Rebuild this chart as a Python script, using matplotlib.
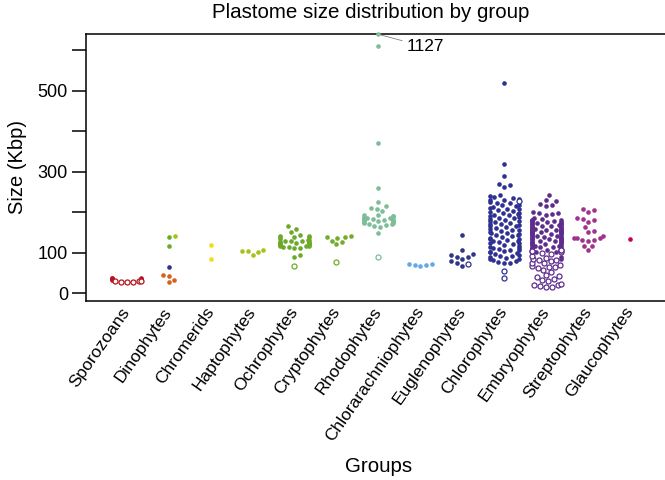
"""Plastome size distribution by group, beeswarm style."""

import matplotlib

matplotlib.use("Agg")
import matplotlib.pyplot as plt
import numpy as np

plt.rcParams["font.family"] = ["Liberation Sans", "DejaVu Sans"]

groups = [
    "Sporozoans", "Dinophytes", "Chromerids", "Haptophytes", "Ochrophytes",
    "Cryptophytes", "Rhodophytes", "Chlorarachniophytes", "Euglenophytes",
    "Chlorophytes", "Embryophytes", "Streptophytes", "Glaucophytes",
]

# colour of each plastid lineage
colours = {
    "sporo": "#B5151D", "peridinin": "#D5621F", "chromerid": "#EEE010",
    "hapto": "#A6C31B", "ochro": "#6DAA2C", "crypto": "#74AC2C",
    "rhodo": "#7DBE98", "chlorarach": "#67A9E6", "eugleno": "#2F3589",
    "chloro": "#2E3192", "embryo": "#5D2C8C", "strepto": "#A0318E",
    "glauco": "#C8005A",
}

# plastome sizes in Kbp; *_open = hollow points
sporozoans = [33, 34, 35, 35, 36, 37, 37, 38]
sporozoans_open = [28, 29, 29, 30, 30, 31]
dino_peridinin = [27, 33.5, 42.7, 45]
dino_green = [66]
dino_diatom = [116, 140]
dino_hapto = [142]
chromerids = [85, 119]
haptophytes = [95, 103, 104, 105, 107]
ochrophytes = [89, 94, 111, 113, 114, 115, 116, 117, 118, 119, 120, 121, 122,
               123, 123, 124, 125, 125, 126, 127, 128, 129, 130, 131, 132, 134,
               138, 139, 140, 141, 141, 145, 152, 158, 165]
ochrophytes_open = [67]
cryptophytes = [121, 127, 130, 136, 139, 139, 141]
cryptophytes_open = [77]
rhodophytes = [1127, 610, 370, 259, 226, 216, 210, 209, 204, 193, 192, 191,
               190, 189, 188, 187, 186, 185, 184, 183, 182, 181, 180, 179, 178,
               177, 176, 175, 174, 173, 172, 170, 168, 166, 164, 150]
rhodophytes_open = [90]
chlorarachniophytes = [67, 69, 71, 72, 72.5]
euglenophytes = [67, 74, 79, 84, 89, 90, 94, 96, 106, 143]
euglenophytes_open = [73]
chlorophytes = [519, 318, 289, 269, 268, 263,
                242, 240, 237, 235, 233, 231, 229, 226, 224, 222,
                219, 217, 215, 213, 211, 209, 207, 205, 203, 201,
                199, 198, 196, 194, 192, 190, 189, 187, 185, 183, 181,
                179, 178, 176, 174, 172, 170, 168, 167, 165, 163, 161,
                159, 157, 156, 154, 152, 150, 148, 146, 145, 143, 141,
                139, 137, 135, 134, 132, 130, 128, 126, 124, 123, 121,
                119, 117, 115, 113, 112, 110, 108, 106, 104, 102, 101,
                99, 97, 95, 93, 92, 90, 88, 86, 84, 82, 80, 78, 76, 74]
chlorophytes_open = [228, 56, 38.5]
embryophytes = [242.5, 230, 228, 219.5, 218, 215, 201, 199, 197, 196, 193,
                186, 184, 182, 181, 180, 179, 178, 177, 176, 175, 174, 173,
                172, 171, 170, 169, 168, 167, 166, 165, 164, 163, 162, 161,
                160, 159, 158, 157, 156, 156, 155, 155, 154, 154, 153, 153,
                152, 152, 151, 151, 150, 150, 149, 148, 147, 146, 145, 144,
                143, 142, 141, 140, 139, 138, 137, 136, 135, 134, 133, 132,
                131, 130, 129, 128, 127, 126, 125, 124, 123, 122, 121, 120,
                119, 118, 117, 116, 115, 114, 113, 112, 111, 110, 109, 108,
                107, 106, 105, 104, 103, 102, 89, 86]
embryophytes_open = [16, 17, 19, 20, 21, 22, 30, 33, 35, 41, 42, 45, 52, 58,
                     62, 65, 66, 68, 70, 74, 76, 79, 82, 83, 85, 88, 92, 96,
                     100, 103, 104, 105, 106, 107]
streptophytes = [207, 205, 200.5, 187, 184, 181, 176, 164, 155, 152, 141, 137,
                 137, 136, 131, 129, 131, 117, 117, 106]
glaucophytes = [135]

# (group number, values, colour key, hollow)
series = [
    (1, sporozoans, "sporo", False), (1, sporozoans_open, "sporo", True),
    (2, dino_peridinin, "peridinin", False), (2, dino_green, "chloro", False),
    (2, dino_diatom, "ochro", False), (2, dino_hapto, "hapto", False),
    (3, chromerids, "chromerid", False), (4, haptophytes, "hapto", False),
    (5, ochrophytes, "ochro", False), (5, ochrophytes_open, "ochro", True),
    (6, cryptophytes, "crypto", False), (6, cryptophytes_open, "crypto", True),
    (7, rhodophytes, "rhodo", False), (7, rhodophytes_open, "rhodo", True),
    (8, chlorarachniophytes, "chlorarach", False),
    (9, euglenophytes, "eugleno", False), (9, euglenophytes_open, "eugleno", True),
    (10, chlorophytes, "chloro", False), (10, chlorophytes_open, "chloro", True),
    (11, embryophytes, "embryo", False), (11, embryophytes_open, "embryo", True),
    (12, streptophytes, "strepto", False), (13, glaucophytes, "glauco", False),
]

Y_MIN, Y_MAX = -17.5, 638.5
SPACING = 6.0   # px between swarm centres
GUTTER = 14.5   # px half width of the corral


def swarm(ypix, size, gutter):
    xs = np.zeros(len(ypix))
    px, py = [], []
    for i in np.argsort(ypix, kind="stable"):
        yi = ypix[i]
        xi = 0.0
        if px:
            ax_, ay_ = np.array(px), np.array(py)
            dy = ay_ - yi
            near = np.abs(dy) < size
            if near.any():
                pxn, dyn = ax_[near], dy[near]
                dx = np.sqrt(size ** 2 - dyn ** 2)
                cand = np.concatenate([[0.0], pxn + dx, pxn - dx])
                ok = [np.all((c - pxn) ** 2 + dyn ** 2 >= size ** 2 * 0.999) for c in cand]
                cand = cand[ok]
                xi = cand[np.argmin(np.abs(cand))]
        xs[i] = xi
        px.append(xi)
        py.append(yi)
    return np.clip(xs, -gutter, gutter)


fig = plt.figure(figsize=(6.65, 4.8), dpi=100)
ax = fig.add_axes([86 / 665, 1 - 300.5 / 480, 579 / 665, 266.2 / 480])
ax.set_xlim(0.03, 13.832)
ax.set_ylim(Y_MIN, Y_MAX)

# pixel scales of the axes
p0 = ax.transData.transform((0, 0))
p1 = ax.transData.transform((1, 1))
xpx, ypx = p1 - p0

for g in range(1, 14):
    rows = [(min(v, Y_MAX), c, o) for gg, vals, c, o in series if gg == g for v in vals]
    vals = np.array([r[0] for r in rows])
    offs = swarm(vals * ypx, SPACING, GUTTER) / xpx
    for (v, c, o), dx in zip(rows, offs):
        if o:
            ax.scatter(g + dx, v, s=13, facecolors="white", edgecolors=colours[c],
                       linewidths=0.9, zorder=3, clip_on=False)
        else:
            ax.scatter(g + dx, v, s=11, color=colours[c], linewidths=0,
                       zorder=3, clip_on=False)

ax.annotate("1127", xy=(7, Y_MAX), xytext=(20, -9), textcoords="offset points",
            ha="left", va="center", fontsize=12.5,
            arrowprops=dict(arrowstyle="-", color="grey", lw=0.6, shrinkA=1, shrinkB=2))

ax.set_yticks(range(0, 700, 100))
ax.set_yticklabels(["0", "100", "", "300", "", "500", ""])
ax.tick_params(axis="y", length=10, width=1.1, pad=3, labelsize=13)
ax.set_xticks(range(1, 14))
ax.set_xticklabels(groups, rotation=55, ha="right", va="center",
                   rotation_mode="anchor", fontsize=12.5)
ax.tick_params(axis="x", length=0, pad=6)
for side in ("left", "top", "bottom"):
    ax.spines[side].set_linewidth(1.1)
ax.spines["right"].set_visible(False)

fig.text(371 / 665, 1 - 13 / 480, "Plastome size distribution by group",
         ha="center", va="center", fontsize=14.8)
fig.text(379 / 665, 1 - 466 / 480, "Groups", ha="center", va="center", fontsize=14.8)
fig.text(18 / 665, 1 - 167 / 480, "Size (Kbp)", ha="center", va="center",
         rotation=90, fontsize=14.5)

fig.savefig("out.png", dpi=100)
